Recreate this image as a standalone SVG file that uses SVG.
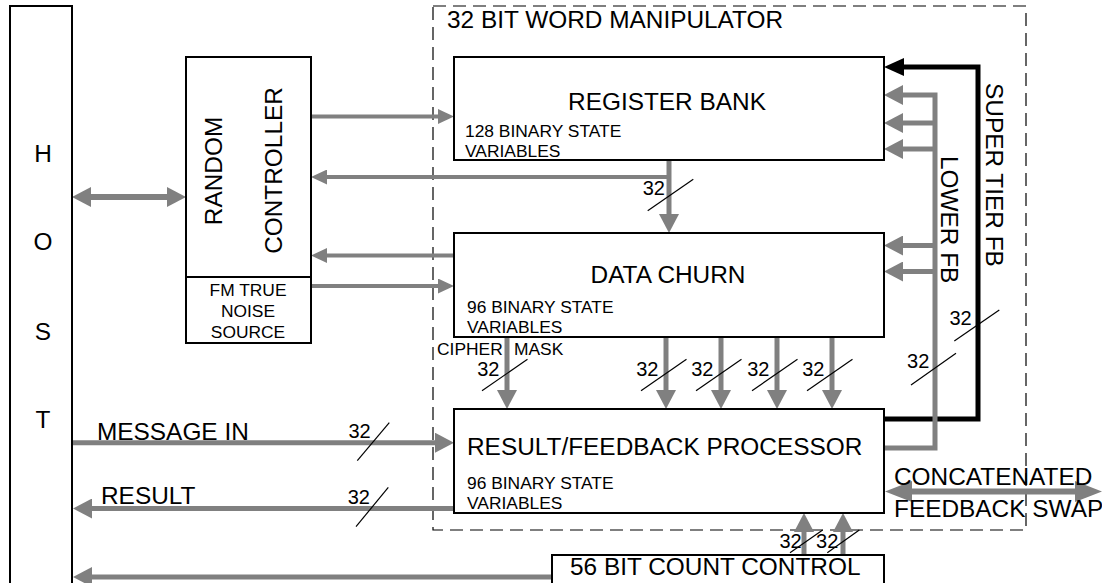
<svg xmlns="http://www.w3.org/2000/svg" width="1102" height="583" viewBox="0 0 1102 583">
<style>
text{font-family:"Liberation Sans",Arial,sans-serif;fill:#000}
.big{font-size:24.4px}
.sm{font-size:17.4px}
.n{font-size:20px}
.box{fill:#fff;stroke:#000;stroke-width:2}
.g{fill:none;stroke:#808080;stroke-width:5}
.g4{fill:none;stroke:#808080;stroke-width:4}
.g6{fill:none;stroke:#808080;stroke-width:6}
.k{fill:none;stroke:#000;stroke-width:5}
.sl{stroke:#000;stroke-width:1.2}
.dash{fill:none;stroke:#000;stroke-width:1.2;stroke-dasharray:13 7}
</style>
<defs>
<marker id="a" markerUnits="userSpaceOnUse" markerWidth="16" markerHeight="15" refX="0" refY="7.5" orient="auto-start-reverse"><path d="M0,0 L16,7.5 L0,15 z" fill="#808080"/></marker>
<marker id="b" markerUnits="userSpaceOnUse" markerWidth="19" markerHeight="20" refX="0" refY="10" orient="auto-start-reverse"><path d="M0,0 L19,10 L0,20 z" fill="#808080"/></marker>
<marker id="c" markerUnits="userSpaceOnUse" markerWidth="27" markerHeight="21" refX="0" refY="10.5" orient="auto-start-reverse"><path d="M0,0 L27,10.5 L0,21 z" fill="#808080"/></marker>
<marker id="kk" markerUnits="userSpaceOnUse" markerWidth="20" markerHeight="18" refX="0" refY="9" orient="auto"><path d="M0,0 L20,9 L0,18 z" fill="#000"/></marker>
</defs>

<g id="manipulator">
<rect class="dash" x="433" y="6" width="593" height="524"/>
<text class="big" x="447" y="28">32 BIT WORD MANIPULATOR</text>
</g>

<g id="connectors">
<line class="g6" x1="91" y1="197" x2="167" y2="197" marker-start="url(#b)" marker-end="url(#b)"/>
<line class="g4" x1="311" y1="116.5" x2="438" y2="116.5" marker-end="url(#a)"/>
<line class="g" x1="669" y1="160" x2="669" y2="214" marker-end="url(#b)"/>
<line class="g4" x1="671" y1="177" x2="327" y2="177" marker-end="url(#a)"/>
<line class="g4" x1="454" y1="255.5" x2="327" y2="255.5" marker-end="url(#a)"/>
<line class="g4" x1="311" y1="286" x2="438" y2="286" marker-end="url(#a)"/>
<line class="g" x1="507" y1="337" x2="507" y2="390" marker-end="url(#b)"/>
<line class="g" x1="666" y1="337" x2="666" y2="390" marker-end="url(#b)"/>
<line class="g" x1="721" y1="337" x2="721" y2="390" marker-end="url(#b)"/>
<line class="g" x1="777" y1="337" x2="777" y2="390" marker-end="url(#b)"/>
<line class="g" x1="832" y1="337" x2="832" y2="390" marker-end="url(#b)"/>
<line class="g" x1="72" y1="442.7" x2="435" y2="442.7" marker-end="url(#b)"/>
<line class="g" x1="454" y1="508.5" x2="92" y2="508.5" marker-end="url(#b)"/>
<line class="g" x1="552" y1="577" x2="92" y2="577" marker-end="url(#b)"/>
<line class="g" x1="804" y1="555" x2="804" y2="532" marker-end="url(#b)"/>
<line class="g" x1="843" y1="555" x2="843" y2="532" marker-end="url(#b)"/>
<line class="g6" x1="912" y1="491.5" x2="1075" y2="491.5" marker-start="url(#c)" marker-end="url(#c)"/>
<path class="k" d="M884,419 H978 V67 H904" marker-end="url(#kk)"/>
<path class="g" d="M884,448 H935 V95 H903" marker-end="url(#b)"/>
<line class="g" x1="935" y1="123" x2="903" y2="123" marker-end="url(#b)"/>
<line class="g" x1="935" y1="149" x2="903" y2="149" marker-end="url(#b)"/>
<line class="g" x1="935" y1="245.5" x2="903" y2="245.5" marker-end="url(#b)"/>
<line class="g" x1="935" y1="271.5" x2="903" y2="271.5" marker-end="url(#b)"/>

<line class="sl" x1="647.7" y1="210.7" x2="693.3" y2="179.3"/>
<text class="n" x="665" y="195" text-anchor="end">32</text>
<line class="sl" x1="482" y1="390.7" x2="527.5" y2="359.3"/>
<text class="n" x="499.5" y="376" text-anchor="end">32</text>
<line class="sl" x1="641" y1="390.7" x2="686.5" y2="359.3"/>
<text class="n" x="658.5" y="376" text-anchor="end">32</text>
<line class="sl" x1="696" y1="390.7" x2="741.5" y2="359.3"/>
<text class="n" x="713.5" y="376" text-anchor="end">32</text>
<line class="sl" x1="752" y1="390.7" x2="797.5" y2="359.3"/>
<text class="n" x="769.5" y="376" text-anchor="end">32</text>
<line class="sl" x1="807" y1="390.7" x2="852.5" y2="359.3"/>
<text class="n" x="824.5" y="376" text-anchor="end">32</text>
<line class="sl" x1="357.3" y1="460.7" x2="389.3" y2="422.7"/>
<text class="n" x="370.7" y="438.3" text-anchor="end">32</text>
<line class="sl" x1="356" y1="526.7" x2="388.3" y2="487.3"/>
<text class="n" x="370" y="504" text-anchor="end">32</text>
<line class="sl" x1="790" y1="552.7" x2="822.7" y2="530"/>
<text class="n" x="801.7" y="548.3" text-anchor="end">32</text>
<line class="sl" x1="827.3" y1="552.7" x2="859.3" y2="530"/>
<text class="n" x="838.3" y="548.3" text-anchor="end">32</text>
<line class="sl" x1="954.3" y1="341" x2="999.3" y2="310"/>
<text class="n" x="971.7" y="325" text-anchor="end">32</text>
<line class="sl" x1="911" y1="385" x2="956" y2="353.3"/>
<text class="n" x="929.3" y="368.3" text-anchor="end">32</text>

<text class="sm" x="437" y="355">CIPHER</text>
<text class="sm" x="514" y="355">MASK</text>
<text class="big" x="97" y="440">MESSAGE IN</text>
<text class="big" x="101" y="504">RESULT</text>
<text class="big" x="894" y="485">CONCATENATED</text>
<text class="big" x="894" y="517">FEEDBACK SWAP</text>
<text class="big" transform="translate(986,83) rotate(90)">SUPER TIER FB</text>
<text class="big" transform="translate(941,156) rotate(90)">LOWER FB</text>
</g>

<g id="host">
<rect class="box" x="10" y="6" width="62" height="600"/>
<text class="big" x="43" y="162" text-anchor="middle">H</text>
<text class="big" x="43" y="250" text-anchor="middle">O</text>
<text class="big" x="43" y="340" text-anchor="middle">S</text>
<text class="big" x="43" y="428" text-anchor="middle">T</text>
</g>

<g id="random-controller">
<rect class="box" x="186" y="57" width="125" height="286"/>
<line x1="186" y1="277" x2="311" y2="277" stroke="#000" stroke-width="2"/>
<text class="big" text-anchor="middle" transform="translate(221.7,171) rotate(-90)">RANDOM</text>
<text class="big" text-anchor="middle" transform="translate(281.7,170.5) rotate(-90)">CONTROLLER</text>
<text class="sm" x="248" y="296" text-anchor="middle">FM TRUE</text>
<text class="sm" x="248" y="317" text-anchor="middle">NOISE</text>
<text class="sm" x="248" y="338" text-anchor="middle">SOURCE</text>
</g>

<g id="register-bank">
<rect class="box" x="454" y="57" width="430" height="103"/>
<text class="big" x="667" y="110" text-anchor="middle">REGISTER BANK</text>
<text class="sm" x="465" y="137">128 BINARY STATE</text>
<text class="sm" x="465" y="157">VARIABLES</text>
</g>

<g id="data-churn">
<rect class="box" x="454" y="233" width="430" height="104"/>
<text class="big" x="668" y="283" text-anchor="middle">DATA CHURN</text>
<text class="sm" x="467" y="312.7">96 BINARY STATE</text>
<text class="sm" x="467" y="332.7">VARIABLES</text>
</g>

<g id="result-processor">
<rect class="box" x="454" y="409" width="430" height="104"/>
<text class="big" x="467" y="455">RESULT/FEEDBACK PROCESSOR</text>
<text class="sm" x="467" y="489.3">96 BINARY STATE</text>
<text class="sm" x="467" y="509.3">VARIABLES</text>
</g>

<g id="count-control">
<rect class="box" x="552" y="555" width="332" height="40"/>
<text class="big" x="570" y="575">56 BIT COUNT CONTROL</text>
</g>
</svg>
